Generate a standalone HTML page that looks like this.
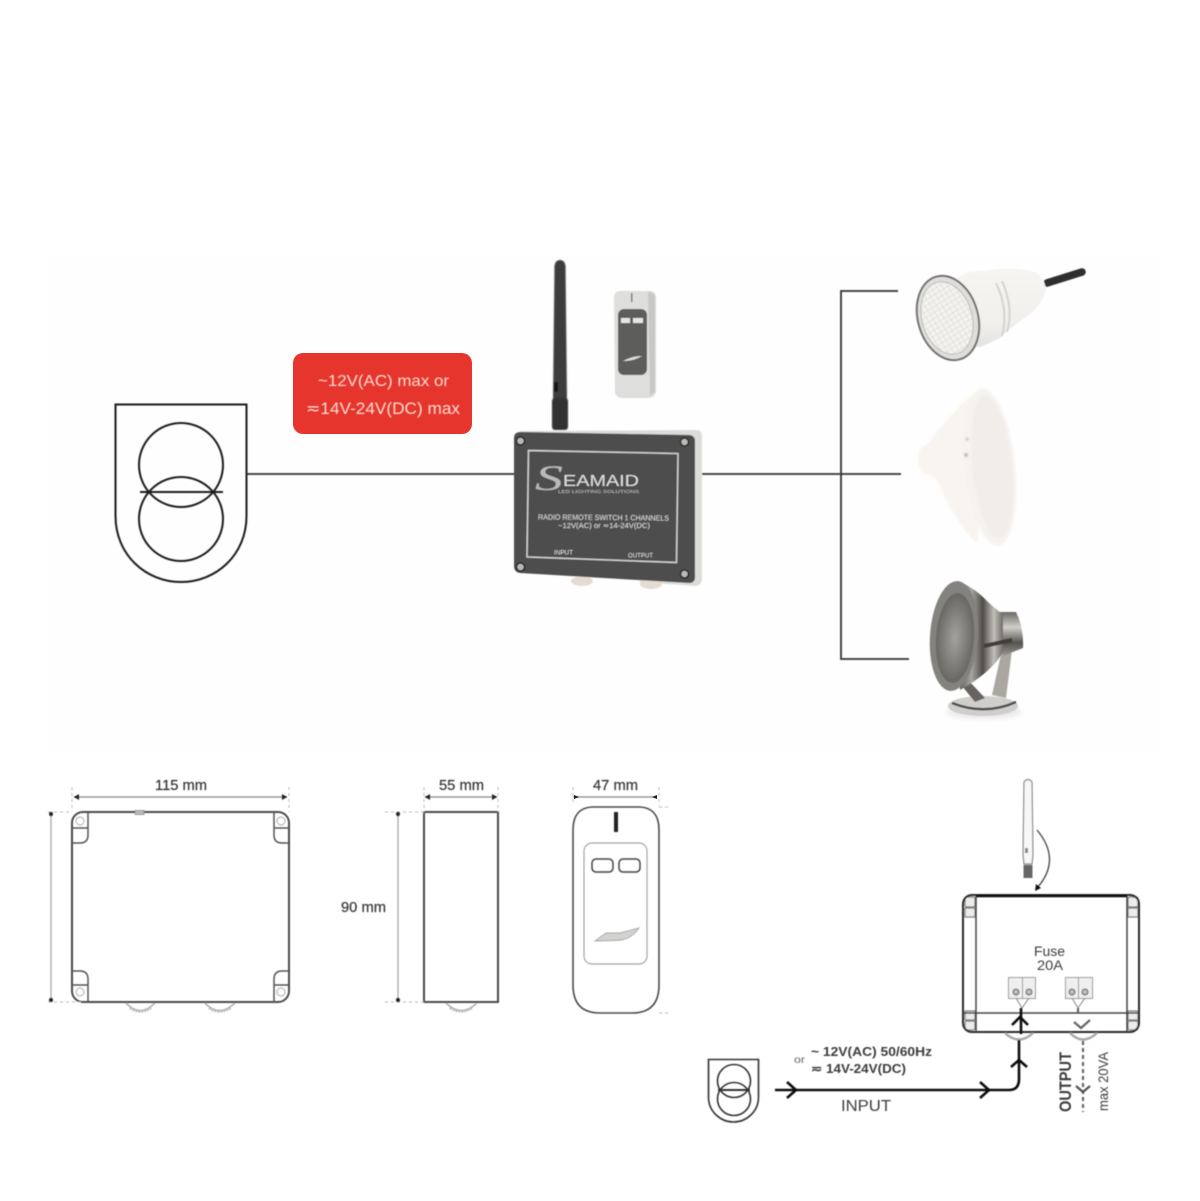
<!DOCTYPE html>
<html><head><meta charset="utf-8"><style>html,body{margin:0;padding:0;background:#fff}svg{display:block}text{font-family:"Liberation Sans",sans-serif}</style></head>
<body>
<svg width="1200" height="1201" viewBox="0 0 1200 1201" xmlns="http://www.w3.org/2000/svg">
<defs>
<filter id="b" x="-5%" y="-5%" width="110%" height="110%"><feGaussianBlur stdDeviation="0.5"/></filter>
<filter id="b1" x="-5%" y="-5%" width="110%" height="110%"><feGaussianBlur stdDeviation="0.8"/></filter>
<filter id="b2" x="-10%" y="-10%" width="120%" height="120%"><feGaussianBlur stdDeviation="1.2"/></filter>
<filter id="b3" x="-20%" y="-20%" width="140%" height="140%"><feGaussianBlur stdDeviation="2.5"/></filter>
<linearGradient id="steel" x1="0" y1="0" x2="1" y2="0"><stop offset="0" stop-color="#5a5855"/><stop offset=".3" stop-color="#a9a6a0"/><stop offset=".55" stop-color="#4f4d4a"/><stop offset=".8" stop-color="#c2bfb9"/><stop offset="1" stop-color="#6f6c68"/></linearGradient>
<linearGradient id="cyl" x1="0" y1="0" x2="0" y2="1"><stop offset="0" stop-color="#6c6a66"/><stop offset=".35" stop-color="#d2cfca"/><stop offset=".7" stop-color="#55534f"/><stop offset="1" stop-color="#9b9893"/></linearGradient>
<radialGradient id="lens3"><stop offset="0" stop-color="#a3a29e"/><stop offset="1" stop-color="#686764"/></radialGradient>
<linearGradient id="body1" x1="0" y1="0" x2="0" y2="1"><stop offset="0" stop-color="#f6f5f2"/><stop offset=".7" stop-color="#f1f0ed"/><stop offset="1" stop-color="#e3e2de"/></linearGradient>
<pattern id="grid" width="5" height="5" patternUnits="userSpaceOnUse" patternTransform="rotate(-16)"><rect width="5" height="5" fill="#f4f3f0"/><path d="M0 0H5M0 0V5" stroke="#d6d5d1" stroke-width="1"/></pattern>
</defs>
<rect width="1200" height="1201" fill="#fff"/>
<rect x="47" y="255" width="1113" height="495" fill="#fefefe"/>

<!-- transformer + wires -->
<g fill="none" stroke="#1c1c1c" stroke-width="2" filter="url(#b)">
<path d="M115.500 404.500H246.500V516C246.500 555 216 582 181 582S115.500 555 115.500 516Z"/>
<circle cx="181" cy="465" r="42"/><circle cx="181" cy="519" r="42"/>
<path d="M140 492H223"/>
<path d="M247 474H515M702 474H840M898 291H841V659H909M841 474H901" stroke="#333" stroke-width="1.800"/>
</g>

<!-- red label -->
<rect x="293" y="353" width="179" height="81" rx="10" fill="#e5352c"/>
<g fill="#fbdcd2" filter="url(#b)">
<text x="318" y="386" font-size="16" textLength="131" lengthAdjust="spacingAndGlyphs">~12V(AC) max or</text>
<text x="306" y="414" font-size="17" textLength="154" lengthAdjust="spacingAndGlyphs">≂14V-24V(DC) max</text>
</g>

<!-- antenna -->
<g filter="url(#b1)">
<path d="M554.500 266C555 258 565 258 565.500 266L567 400H553Z" fill="#3d3d3c"/>
<rect x="552" y="398" width="16" height="32" rx="3" fill="#333"/>
<path d="M554 382h4v10h-4z" fill="#151515"/>
</g>

<!-- remote -->
<g filter="url(#b)">
<path d="M620 291H651Q656 292 656 298V392Q654 398 648 398H623Q616 398 615 392L614 298Q614 291 620 291Z" fill="#dededc"/>
<path d="M648 292Q655 292 655 298V392L650 396Z" fill="#c8c8c5"/>
<rect x="618" y="309" width="29" height="66" rx="6" fill="#5d5d5b"/>
<rect x="621" y="318" width="9" height="5" fill="#e6e6e4"/><rect x="633" y="318" width="10" height="5" fill="#e6e6e4"/>
<path d="M623 361Q633 356 642 356Q634 361 623 361Z" fill="#e0e0de"/>
<rect x="631" y="293" width="1.500" height="9" fill="#777"/>
</g>

<!-- device -->
<g filter="url(#b)">
<path d="M520 431L696 430Q702 430 702 436V578Q702 586 695 586L640 582Z" fill="#dcdcd9"/>
<ellipse cx="582" cy="581" rx="11" ry="5" fill="#e4dcd2"/><ellipse cx="651" cy="584" rx="11" ry="5" fill="#e4dcd2"/>
<path d="M521 432L690 435Q695 436 695 441V577Q695 583 689 583L520 573Q514 572 514 566V438Q514 432 521 432Z" fill="#4d4e4e"/>
<path d="M528.500 450.500L678 453.500L676.500 562.500L527 557Z" fill="none" stroke="#d6d6d4" stroke-width="1.400"/>
<g fill="#b9b9b7" stroke="#222" stroke-width="1.500"><circle cx="520.500" cy="441" r="4"/><circle cx="684.500" cy="442" r="4"/><circle cx="520.500" cy="567" r="4"/><circle cx="684.500" cy="574" r="4"/></g>
<g fill="#dfdfdd">
<text x="535" y="490" font-size="36" style="font-family:'Liberation Serif',serif;font-style:italic" fill-opacity=".75" textLength="28" lengthAdjust="spacingAndGlyphs">S</text>
<text x="563" y="486" font-size="16" textLength="76" lengthAdjust="spacingAndGlyphs">EAMAID</text>
<text x="558" y="493" font-size="4.500" fill-opacity=".8" textLength="81" lengthAdjust="spacingAndGlyphs">LED LIGHTING SOLUTIONS</text>
<text x="538" y="519.500" font-size="7.500" textLength="131" lengthAdjust="spacingAndGlyphs" transform="rotate(.5 538 519)">RADIO REMOTE SWITCH 1 CHANNELS</text>
<text x="558" y="528" font-size="7.500" textLength="92" lengthAdjust="spacingAndGlyphs">~12V(AC) or ≂14-24V(DC)</text>
<text x="554" y="554.500" font-size="6.500" textLength="19" lengthAdjust="spacingAndGlyphs">INPUT</text>
<text x="628" y="557.500" font-size="6.500" textLength="25" lengthAdjust="spacingAndGlyphs">OUTPUT</text>
</g>
</g>

<!-- lamp 1 -->
<g filter="url(#b)">
<path d="M1047 283L1082 272" stroke="#2e2e2e" stroke-width="7.500" stroke-linecap="round"/>
<path d="M955 279Q968 270 985 271Q1015 265 1037 273Q1045 279 1046 290Q1042 305 1030 314Q1010 328 1000 338L980 347L955 345Z" fill="url(#body1)"/>
<path d="M996 283Q1009 310 1002 336M1002 281Q1014 308 1007 332" fill="none" stroke="#d5d3cf" stroke-width="2"/>
<ellipse cx="948" cy="318" rx="30" ry="43" transform="rotate(-16 948 318)" fill="#dfdedb" stroke="#6f6f6b" stroke-width="2"/>
<ellipse cx="947" cy="318" rx="25" ry="37" transform="rotate(-16 947 318)" fill="url(#grid)" stroke="#bcbbb7" stroke-width="1"/>
</g>

<!-- lamp 2 -->
<g filter="url(#b2)">
<path d="M978 390C965 400 945 420 930 442L921 448Q915 460 922 472L936 478C948 505 962 530 978 544Z" fill="#f8f4ef"/>
<ellipse cx="990" cy="467" rx="25" ry="79" transform="rotate(-6 990 467)" fill="#f6f3ef"/>
<ellipse cx="992" cy="467" rx="20" ry="72" transform="rotate(-6 992 467)" fill="#f1eeea"/>
<circle cx="967" cy="439" r="1.200" fill="#888"/><circle cx="966" cy="455" r="1.500" fill="#666"/>
</g>

<!-- lamp 3 -->
<g filter="url(#b)">
<ellipse cx="984" cy="712" rx="38" ry="7" fill="#eaeaea" filter="url(#b3)"/>
<ellipse cx="983" cy="706" rx="35" ry="10" fill="#cfcecb"/>
<path d="M952 703Q985 716 1016 702" stroke="#4a4946" stroke-width="2.500" fill="none"/>
<path d="M992 695L1002 650H1012L1006 698Z" fill="#aaa7a1"/>
<path d="M968 680L985 698L975 702L962 686Z" fill="#666460"/>
<path d="M998 612L1016 612Q1024 628 1023 648L1003 656Z" fill="url(#cyl)"/>
<path d="M958 581Q975 588 988 602L1003 615V652Q992 672 960 690Z" fill="url(#steel)"/>
<ellipse cx="954" cy="636" rx="24" ry="55" transform="rotate(4 954 636)" fill="#84827e"/>
<ellipse cx="955" cy="638" rx="19" ry="45" transform="rotate(4 955 638)" fill="url(#lens3)"/>
<path d="M984 646L1012 640" stroke="#3f3d3a" stroke-width="4" fill="none"/>
</g>

<!-- dimension drawing 1 -->
<g filter="url(#b)" fill="none">
<rect x="72" y="812" width="217" height="190" rx="11" stroke="#4c4c4c" stroke-width="2"/>
<g stroke="#555" stroke-width="1.500">
<path d="M88 812V835Q88 843 80 843H72M72 828H88"/>
<path d="M274 812V835Q274 843 282 843H289M274 828H289"/>
<path d="M88 1002V979Q88 971 80 971H72M72 985H88"/>
<path d="M274 1002V979Q274 971 282 971H289M274 985H289"/>
</g>
<g stroke="#aaa" stroke-width="1"><circle cx="80" cy="821" r="4"/><circle cx="281" cy="821" r="4"/><circle cx="80" cy="992" r="4"/><circle cx="281" cy="992" r="4"/></g>
<rect x="135" y="810.500" width="9" height="4" fill="#bbb" stroke="#888" stroke-width=".8"/>
<path d="M126 1003Q140 1018 155 1003M205 1003Q219 1018 235 1003" stroke="#aaa" stroke-width="1.500"/>
<path d="M130 1008Q140 1015 151 1008M209 1008Q219 1015 231 1008" stroke="#bbb" stroke-width="2.500" stroke-dasharray="2 1"/>
<path d="M74 797H287" stroke="#888" stroke-width="1.200"/>
<path d="M51 814V1000" stroke="#a0a09d" stroke-width="1.200"/>
<path d="M72 787V812M289 787V812M48 812H72M48 1002H84" stroke="#bbb" stroke-width="1" stroke-dasharray="3 3"/>
</g>
<g fill="#222" filter="url(#b)">
<path d="M74 797l5-3v6zM287 797l-5-3v6z"/><circle cx="51" cy="814" r="2"/><circle cx="51" cy="1000" r="2"/>
</g>

<!-- dimension drawing 2 -->
<g filter="url(#b)" fill="none">
<rect x="424" y="812" width="74" height="190" stroke="#4c4c4c" stroke-width="2"/>
<path d="M446 1003Q461 1018 477 1003" stroke="#aaa" stroke-width="1.500"/>
<path d="M450 1008Q461 1015 472 1008" stroke="#bbb" stroke-width="2.500" stroke-dasharray="2 1"/>
<path d="M425 797H497" stroke="#888" stroke-width="1.200"/>
<path d="M398 814V1000" stroke="#a0a09d" stroke-width="1.200"/>
<path d="M424 787V812M498 787V812M385 812H424M385 1002H424" stroke="#bbb" stroke-width="1" stroke-dasharray="3 3"/>
</g>
<g fill="#222" filter="url(#b)">
<path d="M425 797l5-3v6zM497 797l-5-3v6z"/><circle cx="398" cy="814" r="2"/><circle cx="398" cy="1000" r="2"/>
</g>

<!-- remote drawing -->
<g filter="url(#b)" fill="none">
<path d="M592 807H640Q659 808 659 830V985Q659 1013 632 1013H600Q573 1013 573 985V830Q573 808 592 807Z" stroke="#4c4c4c" stroke-width="1.600"/>
<rect x="584" y="843" width="63" height="121" rx="8" stroke="#a5a5a2" stroke-width="1.200"/>
<rect x="592" y="859" width="21" height="13" rx="4" stroke="#444" stroke-width="1.500"/>
<rect x="619" y="859" width="21" height="13" rx="4" stroke="#444" stroke-width="1.500"/>
<path d="M616 812V832" stroke="#222" stroke-width="4"/>
<path d="M595 941L606 933H620L639 928Q632 938 622 940Q608 941 595 941Z" fill="#d2d2d0" stroke="#aaa" stroke-width="1"/>
<path d="M573 797H657" stroke="#888" stroke-width="1.200"/>
<path d="M573 787V805M659 787V806M659 807H668M659 1013H668" stroke="#bbb" stroke-width="1" stroke-dasharray="3 3"/>
</g>
<path d="M574 795l5 2-5 2zM657 795l-5 2 5 2z" fill="#222"/>

<!-- dimension labels -->
<g fill="#3a3a3a" stroke="#3a3a3a" stroke-width=".25" filter="url(#b)" font-size="14.500">
<text x="155" y="790" textLength="52" lengthAdjust="spacingAndGlyphs">115 mm</text>
<text x="439" y="790" textLength="45" lengthAdjust="spacingAndGlyphs">55 mm</text>
<text x="593" y="790" textLength="45" lengthAdjust="spacingAndGlyphs">47 mm</text>
<text x="341" y="912" textLength="45" lengthAdjust="spacingAndGlyphs">90 mm</text>
</g>

<!-- wiring: antenna -->
<g filter="url(#b)" fill="none">
<path d="M1024 782Q1028 777 1032 782L1033 855L1032 864H1024L1023 855Z" stroke="#888" stroke-width="1.200" fill="#f7f7f7"/>
<path d="M1025 848h3v5h-3z" fill="#888"/>
<rect x="1023.500" y="865" width="9" height="13" fill="#666"/>
<path d="M1037 830Q1062 860 1037 888" stroke="#444" stroke-width="1.300"/>
<path d="M1035 891l1-7 5 4z" fill="#111"/>

<!-- wiring box -->
<g stroke="#777" stroke-width="1.200" fill="#ececea">
<rect x="965" y="897" width="10" height="10" rx="2"/><rect x="965" y="908" width="10" height="9"/>
<rect x="1128" y="897" width="10" height="10" rx="2"/><rect x="1128" y="908" width="10" height="9"/>
<rect x="965" y="1011" width="10" height="9"/><rect x="965" y="1021" width="10" height="9" rx="2"/>
<rect x="1128" y="1011" width="10" height="9"/><rect x="1128" y="1021" width="10" height="9" rx="2"/>
</g>
<rect x="963" y="895" width="176" height="137" rx="9" stroke="#2a2a2a" stroke-width="2"/>
<path d="M976 895V1032M1127 895V1032M963 1013H1139" stroke="#444" stroke-width="1.500"/>
<path d="M976 896H1127" stroke="#111" stroke-width="2.500"/>
<!-- terminals -->
<g stroke="#999" stroke-width="1" fill="#efefef">
<rect x="1008.500" y="977.500" width="14" height="21"/><rect x="1022.500" y="977.500" width="13" height="21"/>
<rect x="1065.500" y="977.500" width="13" height="21"/><rect x="1078.500" y="977.500" width="14" height="21"/>
</g>
<g stroke="#555" stroke-width="1" fill="#bbb"><circle cx="1016" cy="992" r="3"/><circle cx="1029" cy="992" r="3"/><circle cx="1072" cy="992" r="3"/><circle cx="1085" cy="992" r="3"/></g>
<path d="M1016 998L1022 1008M1029 998L1022 1008M1072 998L1078 1008M1085 998L1078 1008" stroke="#888" stroke-width="1"/>
<!-- glands -->
<path d="M1005 1033Q1019 1046 1033 1033M1070 1033Q1083 1046 1097 1033" stroke="#aaa" stroke-width="2.500"/>
<!-- input path -->
<path d="M775 1090H1009Q1019 1090 1019 1079V1040M1021 1034V1008" stroke="#111" stroke-width="2.600"/>
<path d="M787 1082L796 1090L787 1098M980 1082L989 1090L980 1098M1011 1067L1019 1060L1027 1067M1012 1025L1020 1017L1028 1025" stroke="#111" stroke-width="2.600"/>
<!-- output path -->
<path d="M1083 1041V1112" stroke="#666" stroke-width="2.200" stroke-dasharray="4 3"/>
<path d="M1076 1086L1083 1092L1090 1086" stroke="#555" stroke-width="2.200"/>
<path d="M1074 1022L1081 1028L1090 1020M1078 1008V1013" stroke="#666" stroke-width="2.200"/>
</g>

<!-- small transformer -->
<g fill="none" stroke="#333" stroke-width="1.600" filter="url(#b)">
<path d="M708.500 1059.500H758.500V1097C758.500 1112 746 1122 733.500 1122S708.500 1112 708.500 1097Z"/>
<circle cx="734" cy="1081" r="16.500"/><circle cx="734" cy="1099" r="16.500"/>
<path d="M718 1090H750" stroke-width="2"/>
</g>

<!-- wiring labels -->
<g fill="#3c3c3c" filter="url(#b)">
<text x="794" y="1063" font-size="10" fill="#666" textLength="11" lengthAdjust="spacingAndGlyphs">or</text>
<text x="811" y="1056" font-size="13" textLength="121" lengthAdjust="spacingAndGlyphs" font-weight="bold">~ 12V(AC) 50/60Hz</text>
<text x="811" y="1073" font-size="13" textLength="95" lengthAdjust="spacingAndGlyphs" font-weight="bold">≂ 14V-24V(DC)</text>
<text x="841" y="1111" font-size="16" textLength="50" lengthAdjust="spacingAndGlyphs">INPUT</text>
<text x="1034" y="956" font-size="14" textLength="31" lengthAdjust="spacingAndGlyphs">Fuse</text>
<text x="1037" y="970" font-size="14" textLength="26" lengthAdjust="spacingAndGlyphs">20A</text>
<text transform="translate(1071 1112) rotate(-90)" font-size="17" textLength="60" lengthAdjust="spacingAndGlyphs" font-weight="bold">OUTPUT</text>
<text transform="translate(1108 1111) rotate(-90)" font-size="14" textLength="59" lengthAdjust="spacingAndGlyphs">max 20VA</text>
</g>
</svg>
</body></html>
